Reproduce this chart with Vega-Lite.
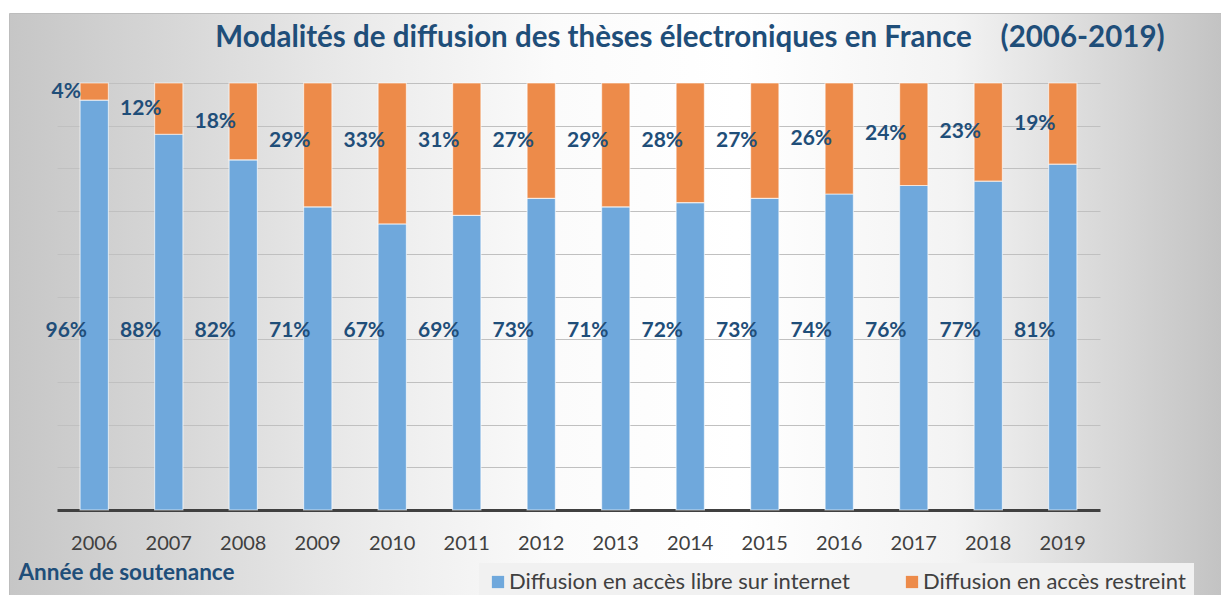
{
  "$schema": "https://vega.github.io/schema/vega-lite/v6.json",
  "width": 1212,
  "height": 582,
  "autosize": {"type": "none"},
  "padding": {"left": 9, "top": 13, "right": 0, "bottom": 0},
  "background": "#ffffff",
  "config": {
    "font": "Lato",
    "view": {
      "stroke": "#bdbdbd",
      "strokeWidth": 1,
      "fill": {
        "gradient": "linear",
        "x1": 0, "y1": 0, "x2": 1, "y2": 0,
        "stops": [
          {"offset": 0, "color": "#c6c6c6"},
          {"offset": 0.12, "color": "#d5d5d5"},
          {"offset": 0.3, "color": "#ececec"},
          {"offset": 0.45, "color": "#fbfbfb"},
          {"offset": 0.6, "color": "#ffffff"},
          {"offset": 0.78, "color": "#f3f3f3"},
          {"offset": 0.9, "color": "#d9d9d9"},
          {"offset": 1, "color": "#c3c3c3"}
        ]
      }
    }
  },
  "title": {
    "text": "Modalités de diffusion des thèses électroniques en France\u00a0\u00a0\u00a0\u00a0(2006-2019)",
    "anchor": "middle",
    "dx": 75,
    "offset": -63,
    "baseline": "alphabetic",
    "font": "Lato",
    "fontSize": 29.5,
    "fontWeight": "bold",
    "color": "#1f4e79"
  },
  "data": {
    "values": [
      {"annee": "2006", "serie": "Diffusion en accès libre sur internet", "part": 0.96},
      {"annee": "2006", "serie": "Diffusion en accès restreint", "part": 0.04},
      {"annee": "2007", "serie": "Diffusion en accès libre sur internet", "part": 0.88},
      {"annee": "2007", "serie": "Diffusion en accès restreint", "part": 0.12},
      {"annee": "2008", "serie": "Diffusion en accès libre sur internet", "part": 0.82},
      {"annee": "2008", "serie": "Diffusion en accès restreint", "part": 0.18},
      {"annee": "2009", "serie": "Diffusion en accès libre sur internet", "part": 0.71},
      {"annee": "2009", "serie": "Diffusion en accès restreint", "part": 0.29},
      {"annee": "2010", "serie": "Diffusion en accès libre sur internet", "part": 0.67},
      {"annee": "2010", "serie": "Diffusion en accès restreint", "part": 0.33},
      {"annee": "2011", "serie": "Diffusion en accès libre sur internet", "part": 0.69},
      {"annee": "2011", "serie": "Diffusion en accès restreint", "part": 0.31},
      {"annee": "2012", "serie": "Diffusion en accès libre sur internet", "part": 0.73},
      {"annee": "2012", "serie": "Diffusion en accès restreint", "part": 0.27},
      {"annee": "2013", "serie": "Diffusion en accès libre sur internet", "part": 0.71},
      {"annee": "2013", "serie": "Diffusion en accès restreint", "part": 0.29},
      {"annee": "2014", "serie": "Diffusion en accès libre sur internet", "part": 0.72},
      {"annee": "2014", "serie": "Diffusion en accès restreint", "part": 0.28},
      {"annee": "2015", "serie": "Diffusion en accès libre sur internet", "part": 0.73},
      {"annee": "2015", "serie": "Diffusion en accès restreint", "part": 0.27},
      {"annee": "2016", "serie": "Diffusion en accès libre sur internet", "part": 0.74},
      {"annee": "2016", "serie": "Diffusion en accès restreint", "part": 0.26},
      {"annee": "2017", "serie": "Diffusion en accès libre sur internet", "part": 0.76},
      {"annee": "2017", "serie": "Diffusion en accès restreint", "part": 0.24},
      {"annee": "2018", "serie": "Diffusion en accès libre sur internet", "part": 0.77},
      {"annee": "2018", "serie": "Diffusion en accès restreint", "part": 0.23},
      {"annee": "2019", "serie": "Diffusion en accès libre sur internet", "part": 0.81},
      {"annee": "2019", "serie": "Diffusion en accès restreint", "part": 0.19}
    ]
  },
  "layer": [
    {
      "mark": {"type": "bar", "stroke": "#ffffff", "strokeWidth": 1.2, "strokeOpacity": 0.6},
      "encoding": {
        "x": {
          "field": "annee",
          "type": "ordinal",
          "scale": {"range": [48, 1091], "paddingInner": 0.62, "paddingOuter": 0.31},
          "axis": {
            "title": "Année de soutenance",
            "offset": -85,
            "domainColor": "#404040",
            "domainWidth": 3,
            "ticks": false,
            "tickSize": 0,
            "grid": false,
            "labelAngle": 0,
            "labelFont": "Lato",
            "labelFontSize": 20,
            "labelColor": "#404040",
            "labelPadding": 33,
            "labelBaseline": "middle",
            "titleFont": "Lato",
            "titleFontSize": 22.5,
            "titleFontWeight": "bold",
            "titleColor": "#1f4e79",
            "titleX": 9,
            "titleY": 62,
            "titleAlign": "left",
            "titleBaseline": "middle",
            "titleAnchor": "start"
          }
        },
        "y": {
          "field": "part",
          "type": "quantitative",
          "stack": "zero",
          "scale": {"domain": [0, 1], "range": [497, 70], "nice": false},
          "axis": {
            "values": [0.1, 0.2, 0.3, 0.4, 0.5, 0.6, 0.7, 0.8, 0.9, 1.0],
            "grid": true,
            "gridColor": "#c0c0c0",
            "gridWidth": 1,
            "labels": false,
            "ticks": false,
            "domain": false,
            "title": null
          }
        },
        "order": {"field": "serie", "sort": "ascending"},
        "color": {
          "field": "serie",
          "type": "nominal",
          "scale": {
            "domain": ["Diffusion en accès libre sur internet", "Diffusion en accès restreint"],
            "range": ["#6fa8dc", "#ed8b4a"]
          },
          "legend": {
            "title": null,
            "orient": "none",
            "legendX": 470,
            "legendY": 550,
            "padding": 8,
            "fillColor": "#f1f1f1",
            "direction": "horizontal",
            "symbolType": "square",
            "symbolSize": 150,
            "symbolStrokeWidth": 0,
            "labelFont": "Lato",
            "labelFontSize": 22,
            "labelColor": "#404040",
            "labelOffset": 0,
            "labelLimit": 0,
            "columnPadding": 50
          }
        }
      }
    },
    {
      "transform": [{"filter": "datum.serie === 'Diffusion en accès libre sur internet'"}],
      "mark": {"type": "text", "dx": -28, "font": "Lato", "fontSize": 21, "fontWeight": "bold", "color": "#1f4e79"},
      "encoding": {
        "x": {"field": "annee", "type": "ordinal"},
        "y": {"datum": 0.42, "type": "quantitative", "scale": {"domain": [0, 1], "range": [497, 70], "nice": false}, "axis": null},
        "text": {"field": "part", "type": "quantitative", "format": ".0%"}
      }
    },
    {
      "transform": [{"filter": "datum.serie === 'Diffusion en accès restreint'"}],
      "mark": {"type": "text", "dx": -28, "font": "Lato", "fontSize": 21, "fontWeight": "bold", "color": "#1f4e79"},
      "encoding": {
        "x": {"field": "annee", "type": "ordinal"},
        "y": {"field": "part", "type": "quantitative", "scale": {"domain": [0, 0.27], "range": [70, 127.8], "clamp": true, "nice": false, "zero": true}, "axis": null},
        "text": {"field": "part", "type": "quantitative", "format": ".0%"}
      }
    }
  ],
  "resolve": {"scale": {"y": "independent"}}
}
